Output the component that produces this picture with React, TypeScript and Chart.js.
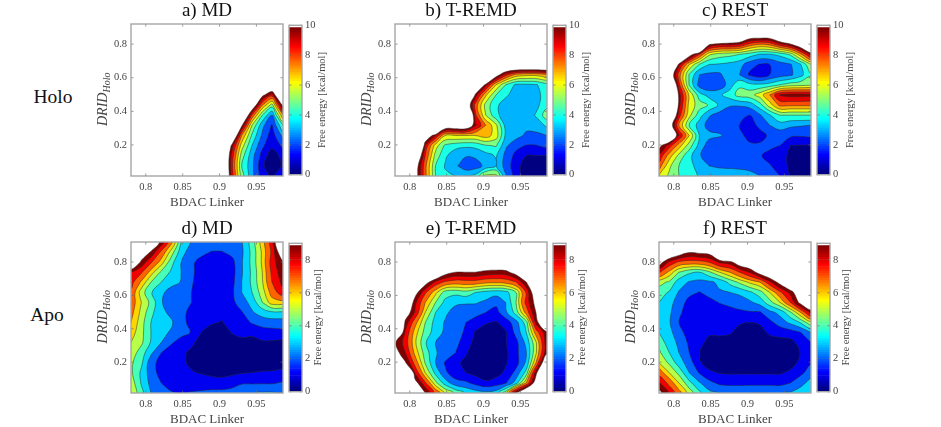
import React, { useEffect, useRef } from 'react';
import { Chart, registerables } from 'chart.js';

Chart.register(...registerables);

const FONT = '"Liberation Serif", serif';

// grid the free energy surfaces were read on
const bdacNodes = [0.78, 0.794, 0.807, 0.821, 0.835, 0.848, 0.862, 0.876, 0.889, 0.903, 0.917, 0.93, 0.944, 0.958, 0.971, 0.986];
const dridNodes = [0.015, 0.075, 0.136, 0.196, 0.256, 0.317, 0.377, 0.437, 0.498, 0.558, 0.618, 0.679, 0.739, 0.799, 0.86, 0.92];

const holoLevels = [1, 2, 3, 4, 5, 6, 7, 8, 9, 10, 11];
const apoLevels = [1, 2, 3, 4, 5, 6, 7, 8.3, 9.6, 11];

// rows run from low DRID to high DRID, values above the last level stay white
const holoMd = [
  [20, 20, 20, 20, 20, 20, 20, 20, 20, 15, 9.5, 5.5, 3.3, 1.5, 0.8, 1.8],
  [20, 20, 20, 20, 20, 20, 20, 20, 20, 15, 9.2, 5, 3.3, 1.2, 0.2, 1.2],
  [20, 20, 20, 20, 20, 20, 20, 20, 20, 15, 9.5, 5.5, 3.4, 1.6, 0.4, 1.4],
  [20, 20, 20, 20, 20, 20, 20, 20, 20, 16, 10.5, 6.5, 4, 2.2, 1.3, 2.2],
  [20, 20, 20, 20, 20, 20, 20, 20, 20, 20, 14, 8, 4.8, 2.8, 1.5, 3.3],
  [20, 20, 20, 20, 20, 20, 20, 20, 20, 20, 20, 11.3, 6, 3.3, 1.9, 5],
  [20, 20, 20, 20, 20, 20, 20, 20, 20, 20, 20, 15, 8.8, 5, 3, 8],
  [20, 20, 20, 20, 20, 20, 20, 20, 20, 20, 20, 20, 13, 8, 5.5, 11.5],
  [20, 20, 20, 20, 20, 20, 20, 20, 20, 20, 20, 20, 20, 11.5, 9.5, 15],
  [20, 20, 20, 20, 20, 20, 20, 20, 20, 20, 20, 20, 20, 16, 14, 20],
  [20, 20, 20, 20, 20, 20, 20, 20, 20, 20, 20, 20, 20, 20, 20, 20],
  [20, 20, 20, 20, 20, 20, 20, 20, 20, 20, 20, 20, 20, 20, 20, 20],
  [20, 20, 20, 20, 20, 20, 20, 20, 20, 20, 20, 20, 20, 20, 20, 20],
  [20, 20, 20, 20, 20, 20, 20, 20, 20, 20, 20, 20, 20, 20, 20, 20],
  [20, 20, 20, 20, 20, 20, 20, 20, 20, 20, 20, 20, 20, 20, 20, 20],
  [20, 20, 20, 20, 20, 20, 20, 20, 20, 20, 20, 20, 20, 20, 20, 20],
];

const holoTremd = [
  [20, 20, 12, 8.3, 5, 4.2, 4, 4, 4.3, 6.3, 6.3, 3.1, 1.5, 0.5, 0.4, 0.5],
  [20, 20, 12.2, 8.3, 5, 3.9, 3.2, 2.3, 2.5, 3.3, 4, 2.6, 1.4, 0.5, 0.2, 0.4],
  [20, 20, 14, 9, 5.6, 4.2, 3.3, 3.1, 3.2, 3.6, 4.1, 2.7, 1.7, 1, 1, 1],
  [20, 20, 20, 9.8, 6.5, 4.8, 4.4, 4.2, 4.3, 4.9, 5.1, 3.2, 2.3, 1.95, 1.95, 2.3],
  [20, 20, 20, 13, 10, 7, 7, 7, 7, 7.5, 6.5, 3.8, 3.4, 2.8, 2.8, 3],
  [20, 20, 20, 20, 20, 13, 13, 13, 10.2, 8, 6.2, 3.6, 3.5, 3.3, 3.4, 4.2],
  [20, 20, 20, 20, 20, 20, 20, 17, 9.2, 6, 4.3, 3.4, 3.3, 3.4, 4.1, 5.6],
  [20, 20, 20, 20, 20, 20, 20, 13, 8.6, 5.6, 4.2, 3.5, 3.2, 3.2, 3.7, 4.7],
  [20, 20, 20, 20, 20, 20, 20, 20, 10.6, 7.2, 5, 4.2, 3.5, 3.3, 3.5, 4.7],
  [20, 20, 20, 20, 20, 20, 20, 20, 15, 10.5, 7, 5, 3.8, 3.8, 3.9, 4.6],
  [20, 20, 20, 20, 20, 20, 20, 20, 20, 20, 12, 9.4, 7.7, 7.3, 7.3, 7.8],
  [20, 20, 20, 20, 20, 20, 20, 20, 20, 20, 20, 15, 15, 15, 15, 15],
  [20, 20, 20, 20, 20, 20, 20, 20, 20, 20, 20, 20, 20, 20, 20, 20],
  [20, 20, 20, 20, 20, 20, 20, 20, 20, 20, 20, 20, 20, 20, 20, 20],
  [20, 20, 20, 20, 20, 20, 20, 20, 20, 20, 20, 20, 20, 20, 20, 20],
  [20, 20, 20, 20, 20, 20, 20, 20, 20, 20, 20, 20, 20, 20, 20, 20],
];

const holoRest = [
  [7, 5.8, 5, 4.4, 3.9, 3.5, 3.4, 3.3, 3.2, 3.1, 3, 2.6, 2, 0.9, 0.5, 0.5],
  [8.5, 6.2, 5, 4.3, 3.6, 3, 2.9, 2.9, 2.9, 2.9, 2.5, 2.1, 1.5, 0.8, 0.4, 0.4],
  [9.8, 7.5, 5.7, 4.3, 3.1, 2.4, 2.2, 2.2, 2.3, 2.2, 2.1, 1.6, 1.4, 0.8, 0.4, 0.4],
  [11.5, 9.5, 7.5, 5.5, 3.6, 2.5, 2.3, 2.2, 2.2, 2.2, 2.2, 2.3, 2, 1, 0.95, 0.95],
  [16, 14, 10, 7, 3.9, 3.3, 3.1, 2.7, 2.3, 1.6, 1.6, 2.2, 2.4, 2.2, 2.1, 2.2],
  [20, 12.5, 8, 5, 3.5, 2.6, 2.6, 2.3, 2, 1.5, 2.3, 3, 3.5, 3.2, 3.1, 3],
  [20, 15, 9.5, 6.3, 4.4, 3.1, 2.6, 2.4, 2.2, 2, 2.9, 3.9, 5, 5, 5, 5],
  [20, 20, 10.4, 6.6, 5.5, 4.9, 3.8, 3.1, 3.1, 3.4, 4.6, 6.5, 8.3, 8.2, 8.2, 8.2],
  [20, 20, 10.5, 6.8, 4.4, 3.6, 3.8, 4.5, 5.4, 5.6, 6.5, 8, 10.1, 10.4, 10.4, 10.3],
  [20, 16, 9.3, 4.9, 2.5, 2.2, 2.3, 3.5, 4.8, 4.3, 4.2, 4.4, 5, 5.5, 5.6, 5.8],
  [20, 13, 8.5, 4.9, 3, 2.8, 2.8, 3.7, 3, 1.8, 1.3, 2, 2.5, 2.8, 3.6, 4.9],
  [20, 20, 10.4, 7, 4.9, 4, 3.9, 3.7, 3.4, 2.4, 1.9, 2, 2.6, 2.9, 3.8, 6],
  [20, 20, 20, 12, 9, 6.2, 5.5, 5.3, 5, 4.5, 3.9, 3.9, 4.3, 5.2, 7.5, 10.3],
  [20, 20, 20, 20, 20, 11.2, 10.3, 10.3, 10, 8.6, 8, 8.3, 9.7, 10.8, 12.5, 15],
  [20, 20, 20, 20, 20, 20, 20, 16, 15, 13, 13, 13, 15, 16, 20, 20],
  [20, 20, 20, 20, 20, 20, 20, 20, 20, 20, 20, 20, 20, 20, 20, 20],
];

const apoMd = [
  [6, 4.3, 3, 2.3, 2.1, 2, 2.1, 2.2, 2.3, 2.3, 2.4, 2.7, 2.9, 3.1, 3.1, 3],
  [5.6, 3.9, 2.7, 2, 1.5, 1.4, 1.4, 1.4, 1.4, 1.4, 1.6, 1.9, 1.9, 1.9, 1.9, 2.1],
  [5.2, 3.8, 2.5, 1.6, 1.2, 1.1, 1.05, 0.95, 0.8, 0.7, 0.8, 0.95, 1.02, 1.1, 1.1, 1.2],
  [5.2, 4.2, 2.4, 1.6, 1.3, 1.1, 0.9, 0.4, 0.3, 0.3, 0.4, 0.4, 0.5, 0.5, 0.6, 0.7],
  [5.6, 4.5, 3.2, 2, 1.5, 1.2, 0.8, 0.4, 0.3, 0.3, 0.3, 0.3, 0.4, 0.4, 0.4, 0.5],
  [6, 5.2, 3.9, 3, 2.1, 1.6, 1.2, 0.6, 0.3, 0.3, 0.6, 0.7, 0.85, 0.9, 0.85, 0.7],
  [6.5, 5.3, 4, 3.2, 2.9, 2.3, 1.95, 0.95, 0.6, 0.6, 1.05, 1.3, 1.1, 1.4, 1.6, 1.7],
  [7, 5.4, 4, 3.3, 3.1, 2.3, 1.7, 1.4, 1.1, 0.95, 1.3, 1.5, 2.1, 2.5, 2.5, 2.5],
  [7.4, 5.7, 4.3, 3.2, 2.8, 2.1, 1.9, 1.4, 1.2, 1.2, 1.6, 1.9, 2.9, 3.4, 3.8, 3.8],
  [7.7, 6, 4.7, 3.1, 2.3, 2.1, 2, 1.4, 1.2, 1.2, 1.7, 2.6, 3.3, 5, 6.5, 6.6],
  [8, 5.5, 4.1, 3.2, 2.6, 2.2, 2, 1.4, 1.3, 1.3, 1.8, 3, 4, 5.5, 7.5, 9.2],
  [8.8, 6.8, 5, 4, 3.3, 2.95, 2.1, 1.5, 1.3, 1.3, 1.7, 3, 4.2, 5.9, 8.3, 10],
  [9.5, 8.5, 6.5, 4.8, 3.8, 3, 2.2, 1.5, 1.3, 1.3, 1.6, 2.9, 4.2, 6, 8.6, 10.5],
  [15, 10.5, 8.5, 6.5, 4.3, 3, 2.2, 1.6, 1.3, 1.3, 1.7, 2.9, 4.3, 6.2, 8.9, 11],
  [20, 13, 10.8, 8, 5.5, 3.4, 2.5, 2.3, 1.95, 1.95, 2.3, 2.8, 4.3, 6.2, 8.6, 13],
  [20, 20, 14, 10.5, 7.3, 4, 2.9, 2.7, 2.6, 2.6, 2.7, 2.9, 4.5, 6.5, 9, 16],
];

const apoTremd = [
  [20, 20, 20, 11, 8, 6, 4.8, 3.9, 3.5, 3.3, 3.5, 5.6, 11, 15, 20, 20],
  [20, 20, 12, 8.5, 5.3, 3.5, 2.4, 2.2, 1.7, 1.2, 1.5, 1.9, 3.5, 7, 12.5, 20],
  [20, 20, 9.5, 6, 3.7, 2.2, 1.4, 1, 0.7, 0.4, 0.6, 1.2, 2.3, 4.4, 10.3, 18],
  [20, 11.2, 7.8, 4.9, 3, 1.9, 1.2, 0.8, 0.3, 0.2, 0.2, 0.9, 1.6, 3.2, 7, 14],
  [12, 9.6, 6.7, 4.5, 3.1, 2.5, 2, 1.1, 0.5, 0.3, 0.3, 0.8, 1.7, 3, 5.8, 10.7],
  [11.2, 9, 6.2, 4.1, 3, 2.5, 2.3, 1.5, 0.7, 0.3, 0.3, 0.95, 1.7, 3.3, 5.8, 10.5],
  [16, 9.4, 6.5, 4.6, 3.5, 2.8, 2.5, 1.8, 0.9, 0.5, 0.3, 0.9, 2.3, 4, 7.5, 10.7],
  [20, 10.5, 7.5, 5, 3.6, 2.9, 2.6, 2, 1.5, 1.1, 0.9, 1.4, 2.6, 4.5, 10, 15],
  [20, 12.5, 9.5, 6, 4, 3.2, 2.6, 2.5, 2.4, 2, 1.6, 2.8, 4.4, 7.5, 11, 18],
  [20, 15, 10, 7, 5, 3.7, 3.2, 3.1, 3.1, 2.8, 2.3, 3, 5, 8.8, 11.7, 20],
  [20, 20, 12, 8.5, 6.3, 4.5, 4.3, 4.6, 4, 3.6, 3.4, 3.6, 5, 8.5, 13, 20],
  [20, 20, 20, 12, 9.2, 8, 7.6, 7.7, 7.7, 7.3, 7.2, 7.4, 8.2, 10.9, 17, 20],
  [20, 20, 20, 20, 15, 12, 11, 11, 11, 10.5, 10.3, 10.4, 12, 17, 20, 20],
  [20, 20, 20, 20, 20, 15, 14, 14, 14, 13.7, 13.7, 14, 20, 20, 20, 20],
  [20, 20, 20, 20, 20, 20, 20, 20, 20, 20, 20, 20, 20, 20, 20, 20],
  [20, 20, 20, 20, 20, 20, 20, 20, 20, 20, 20, 20, 20, 20, 20, 20],
];

const apoRest = [
  [11.5, 9.5, 7.5, 5.6, 4.2, 3.3, 3, 2.9, 2.9, 3, 3, 3, 2.9, 3.1, 3.5, 4],
  [9.8, 7.8, 6, 4.3, 3.1, 2.3, 1.8, 1.7, 1.7, 1.7, 1.7, 1.7, 1.7, 2, 2.6, 3.4],
  [7.7, 6, 4.7, 3, 1.9, 1.2, 0.95, 0.9, 0.9, 0.9, 0.9, 0.9, 0.9, 1.2, 1.7, 2.5],
  [6, 4.8, 3.5, 2.5, 1.1, 0.6, 0.3, 0.3, 0.3, 0.3, 0.3, 0.3, 0.4, 0.6, 1.2, 1.9],
  [5.2, 4, 3, 2, 1, 0.5, 0.4, 0.4, 0.4, 0.4, 0.4, 0.4, 0.4, 0.4, 1, 1.7],
  [4.6, 3.5, 2.8, 1.8, 1.2, 0.8, 0.8, 0.6, 0.5, 0.3, 0.5, 0.6, 0.7, 0.7, 1.3, 2],
  [4, 3.3, 2.4, 1.5, 1.2, 1.1, 1.1, 1.1, 0.7, 0.4, 0.7, 1.15, 1.3, 1.5, 1.9, 3],
  [3.8, 3.1, 2, 1.3, 1.1, 1.1, 1.1, 1.1, 1.1, 1, 1.1, 1.7, 2.5, 3.2, 4, 5.7],
  [3.9, 3.2, 2.2, 1.5, 1.2, 1.3, 1.5, 1.6, 1.8, 1.9, 1.9, 2.7, 3.3, 4.8, 6.8, 10],
  [4, 3.3, 2.6, 1.6, 1.3, 1.6, 2.05, 2.3, 2.5, 2.8, 3.4, 4.6, 6, 8.3, 11.5, 14.5],
  [4.4, 3.9, 2.9, 2.3, 1.95, 2.4, 2.9, 3, 3.2, 3.8, 4.6, 6, 8, 10, 13, 20],
  [5.4, 4.8, 3.5, 2.9, 2.7, 2.8, 3.2, 4.3, 5.2, 6.2, 7, 9.2, 11.8, 15, 20, 20],
  [8.5, 6.7, 5, 4.2, 4, 4.8, 6, 7, 8.3, 9.7, 12, 13.7, 16, 20, 20, 20],
  [12, 9.3, 8, 7.7, 7.8, 8.3, 9.8, 10.3, 12.5, 13.5, 20, 20, 20, 20, 20, 20],
  [20, 14, 12.5, 11.2, 11.5, 11.8, 16, 20, 20, 20, 20, 20, 20, 20, 20, 20],
  [20, 20, 20, 20, 20, 20, 20, 20, 20, 20, 20, 20, 20, 20, 20, 20],
];

const xTicks = [0.8, 0.85, 0.9, 0.95];

const jet = (t: number) => {
  const c = (v: number) => Math.round(255 * Math.min(1, Math.max(0, v)));
  return `rgb(${c(1.5 - Math.abs(4 * t - 3))},${c(1.5 - Math.abs(4 * t - 2))},${c(1.5 - Math.abs(4 * t - 1))})`;
};

// marching squares, low side always on the left of the travel direction
const SEGS: Record<number, string[]> = {
  1: ['BL'], 2: ['RB'], 4: ['TR'], 8: ['LT'],
  3: ['RL'], 6: ['TB'], 12: ['LR'], 9: ['BT'],
  14: ['LB'], 13: ['BR'], 11: ['RT'], 7: ['TL'],
};

function traceRings(xs: number[], ys: number[], z: number[][], level: number) {
  const next = new Map<string, string>();
  const pts = new Map<string, { x: number; y: number }>();
  const cross = (a: number, b: number) => (level - a) / (b - a);
  for (let j = 0; j < ys.length - 1; j++) {
    for (let i = 0; i < xs.length - 1; i++) {
      const a = z[j][i], b = z[j][i + 1], c = z[j + 1][i + 1], d = z[j + 1][i];
      const code = (a < level ? 1 : 0) + (b < level ? 2 : 0) + (c < level ? 4 : 0) + (d < level ? 8 : 0);
      if (code === 0 || code === 15) continue;
      const keys: Record<string, string> = { B: `h${i},${j}`, T: `h${i},${j + 1}`, L: `v${i},${j}`, R: `v${i + 1},${j}` };
      const where: Record<string, () => { x: number; y: number }> = {
        B: () => ({ x: xs[i] + cross(a, b) * (xs[i + 1] - xs[i]), y: ys[j] }),
        T: () => ({ x: xs[i] + cross(d, c) * (xs[i + 1] - xs[i]), y: ys[j + 1] }),
        L: () => ({ x: xs[i], y: ys[j] + cross(a, d) * (ys[j + 1] - ys[j]) }),
        R: () => ({ x: xs[i + 1], y: ys[j] + cross(b, c) * (ys[j + 1] - ys[j]) }),
      };
      let segs = SEGS[code];
      const mid = (a + b + c + d) / 4 < level;
      if (code === 5) segs = mid ? ['BR', 'TL'] : ['BL', 'TR'];
      if (code === 10) segs = mid ? ['LB', 'RT'] : ['RB', 'LT'];
      for (const s of segs) {
        const [p, q] = [s[0], s[1]];
        next.set(keys[p], keys[q]);
        if (!pts.has(keys[p])) pts.set(keys[p], where[p]());
        if (!pts.has(keys[q])) pts.set(keys[q], where[q]());
      }
    }
  }
  const rings: { x: number; y: number }[][] = [];
  while (next.size) {
    const start = next.keys().next().value as string;
    const ring = [];
    let key: string | undefined = start;
    while (key !== undefined && next.has(key)) {
      ring.push(pts.get(key)!);
      const to: string = next.get(key)!;
      next.delete(key);
      key = to;
    }
    ring.push(ring[0]);
    rings.push(ring);
  }
  return rings;
}

const signedArea = (r: { x: number; y: number }[]) => {
  let s = 0;
  for (let i = 0; i < r.length - 1; i++) s += r[i].x * r[i + 1].y - r[i + 1].x * r[i].y;
  return s / 2;
};

function buildContours(grid: number[][], levels: number[]) {
  // one copy of the edge outside the axes, then a high wall, so rings close out of sight
  const dx = 0.014, dy = 0.06;
  const xs = [bdacNodes[0] - 2 * dx, bdacNodes[0] - dx, ...bdacNodes, bdacNodes[15] + dx, bdacNodes[15] + 2 * dx];
  const ys = [dridNodes[0] - 2 * dy, dridNodes[0] - dy, ...dridNodes, dridNodes[15] + dy, dridNodes[15] + 2 * dy];
  const widen = (r: number[]) => [99, r[0], ...r, r[r.length - 1], 99];
  const wall = xs.map(() => 99);
  const z = [wall, widen(grid[0]), ...grid.map(widen), widen(grid[grid.length - 1]), wall];

  const n = levels.length;
  const rings: { data: { x: number; y: number }[]; area: number; color: string }[] = [];
  levels.forEach((level, l) => {
    for (const ring of traceRings(xs, ys, z, level)) {
      const area = signedArea(ring);
      const band = area > 0 ? l : l + 1;
      rings.push({ data: ring, area: Math.abs(area), color: band >= n ? '#ffffff' : jet(band / (n - 1)) });
    }
  });
  // chart.js paints the first dataset last, so the smallest ring goes first
  rings.sort((p, q) => p.area - q.area);
  return rings.map((r) => ({
    data: r.data,
    showLine: true,
    fill: 'shape',
    tension: 0.4,
    capBezierPoints: false,
    pointRadius: 0,
    borderWidth: 0.5,
    borderColor: '#2a2a2a',
    backgroundColor: r.color,
  }));
}

const framePlugin = {
  id: 'frame',
  afterDraw(chart: any) {
    const { ctx, chartArea: a, scales } = chart;
    ctx.save();
    ctx.strokeStyle = '#666';
    ctx.lineWidth = 0.7;
    ctx.beginPath();
    if (scales.x && scales.x.options.display) {
      for (const t of scales.x.ticks) {
        const px = scales.x.getPixelForValue(t.value);
        ctx.moveTo(px, a.bottom);
        ctx.lineTo(px, a.bottom - 2.5);
        ctx.moveTo(px, a.top);
        ctx.lineTo(px, a.top + 2.5);
      }
    }
    for (const t of scales.y.ticks) {
      const py = scales.y.getPixelForValue(t.value);
      ctx.moveTo(a.left, py);
      ctx.lineTo(a.left + 2.5, py);
      ctx.moveTo(a.right, py);
      ctx.lineTo(a.right - 2.5, py);
    }
    ctx.stroke();
    ctx.strokeStyle = '#a6a6a6';
    ctx.lineWidth = 1.4;
    ctx.strokeRect(a.left, a.top, a.right - a.left, a.bottom - a.top);
    ctx.restore();
  },
};

const dridLabel = {
  id: 'dridLabel',
  afterDraw(chart: any) {
    const { ctx, chartArea: a } = chart;
    ctx.save();
    ctx.translate(a.left - 24, (a.top + a.bottom) / 2 + 26);
    ctx.rotate(-Math.PI / 2);
    ctx.fillStyle = '#444';
    ctx.textBaseline = 'alphabetic';
    ctx.font = `italic 14px ${FONT}`;
    ctx.fillText('DRID', 0, 0);
    const w = ctx.measureText('DRID').width;
    ctx.font = `italic 10px ${FONT}`;
    ctx.fillText('Holo', w, 3);
    ctx.restore();
  },
};

function ContourPanel({ title, grid, levels, left, top, height }: any) {
  const ref = useRef<HTMLCanvasElement>(null);
  useEffect(() => {
    if (!ref.current) return;
    const chart = new Chart(ref.current, {
      type: 'scatter',
      data: { datasets: buildContours(grid, levels) as any },
      plugins: [framePlugin, dridLabel],
      options: {
        responsive: false,
        animation: false,
        events: [],
        layout: { padding: { right: 2 } },
        plugins: {
          legend: { display: false },
          tooltip: { enabled: false },
          title: {
            display: true,
            text: title,
            fullSize: false,
            color: '#111',
            font: { family: FONT, size: 19, weight: 'normal', lineHeight: 1.2 },
            padding: { top: 0, bottom: 1.2 },
          },
        },
        scales: {
          x: {
            type: 'linear',
            min: 0.78,
            max: 0.986,
            afterBuildTicks: (s: any) => { s.ticks = xTicks.map((value) => ({ value })); },
            afterFit: (s: any) => { s.height = 34; },
            grid: { display: false, drawTicks: false },
            border: { display: false },
            ticks: {
              color: '#444',
              padding: 5,
              maxRotation: 0,
              font: { family: FONT, size: 10.5 },
              callback: (v: any) => String(Number(v)),
            },
            title: {
              display: true,
              text: 'BDAC Linker',
              color: '#444',
              padding: { top: 1, bottom: 0 },
              font: { family: FONT, size: 13 },
            },
          },
          y: {
            min: 0.015,
            max: 0.92,
            afterFit: (s: any) => { s.width = 50; },
            grid: { display: false, drawTicks: false },
            border: { display: false },
            ticks: {
              color: '#444',
              padding: 4,
              stepSize: 0.2,
              includeBounds: false,
              font: { family: FONT, size: 10.5 },
              callback: (v: any) => String(Number(Number(v).toFixed(2))),
            },
          },
        },
      } as any,
    });
    return () => chart.destroy();
  }, [title, grid, levels]);
  return (
    <canvas
      ref={ref}
      width={204}
      height={24 + height + 34}
      style={{ position: 'absolute', left: left - 50, top: top - 24 }}
    />
  );
}

function ColorBar({ max, left, top, height, labelX }: any) {
  const ref = useRef<HTMLCanvasElement>(null);
  useEffect(() => {
    if (!ref.current) return;
    const steps = 64;
    const datasets = Array.from({ length: steps }, (_, i) => ({
      data: [max / steps],
      backgroundColor: i === steps - 1 ? '#ffffff' : jet(i / (steps - 2)),
      borderWidth: 0,
      barPercentage: 1,
      categoryPercentage: 1,
    }));
    const sideLabel = {
      id: 'sideLabel',
      afterDraw(chart: any) {
        const { ctx, chartArea: a } = chart;
        ctx.save();
        ctx.translate(labelX, (a.top + a.bottom) / 2);
        ctx.rotate(-Math.PI / 2);
        ctx.textAlign = 'center';
        ctx.textBaseline = 'middle';
        ctx.fillStyle = '#444';
        ctx.font = `10.5px ${FONT}`;
        ctx.fillText('Free energy [kcal/mol]', 0, 0);
        ctx.restore();
      },
    };
    const chart = new Chart(ref.current, {
      type: 'bar',
      data: { labels: [''], datasets },
      plugins: [framePlugin, sideLabel],
      options: {
        responsive: false,
        animation: false,
        events: [],
        layout: { padding: { top: 8, bottom: 8, left: 1 } },
        plugins: { legend: { display: false }, tooltip: { enabled: false } },
        scales: {
          x: { display: false, stacked: true },
          y: {
            stacked: true,
            position: 'right',
            min: 0,
            max,
            afterFit: (s: any) => { s.width = 44; },
            grid: { display: false, drawTicks: false },
            border: { display: false },
            ticks: {
              color: '#444',
              padding: 3,
              stepSize: 2,
              includeBounds: false,
              font: { family: FONT, size: 10.5 },
            },
          },
        },
      } as any,
    });
    return () => chart.destroy();
  }, [max, labelX]);
  return (
    <canvas
      ref={ref}
      width={58}
      height={height + 16}
      style={{ position: 'absolute', left: left - 1, top: top - 8 }}
    />
  );
}

const sideText = (text: string, x: number, y: number) => (
  <div
    style={{
      position: 'absolute',
      left: x - 50,
      width: 100,
      top: y - 12,
      lineHeight: '24px',
      textAlign: 'center',
      font: `19.5px ${FONT}`,
      color: '#111',
    }}
  >
    {text}
  </div>
);

export default function App() {
  return (
    <div style={{ position: 'absolute', left: 0, top: 0, width: 941, height: 427, overflow: 'hidden', background: '#fff' }}>
      {sideText('Holo', 53, 98)}
      {sideText('Apo', 47, 316)}
      <ContourPanel title="a) MD" grid={holoMd} levels={holoLevels} left={131} top={24} height={152} />
      <ContourPanel title="b) T-REMD" grid={holoTremd} levels={holoLevels} left={395} top={24} height={152} />
      <ContourPanel title="c) REST" grid={holoRest} levels={holoLevels} left={659} top={24} height={152} />
      <ContourPanel title="d) MD" grid={apoMd} levels={apoLevels} left={131} top={242} height={151} />
      <ContourPanel title="e) T-REMD" grid={apoTremd} levels={apoLevels} left={395} top={242} height={151} />
      <ContourPanel title="f) REST" grid={apoRest} levels={apoLevels} left={659} top={242} height={151} />
      <ColorBar max={10} left={289} top={24} height={152} labelX={34} />
      <ColorBar max={10} left={553} top={24} height={152} labelX={34} />
      <ColorBar max={10} left={817} top={24} height={152} labelX={34} />
      <ColorBar max={9} left={289} top={242} height={151} labelX={30} />
      <ColorBar max={9} left={553} top={242} height={151} labelX={30} />
      <ColorBar max={9} left={817} top={242} height={151} labelX={30} />
    </div>
  );
}
